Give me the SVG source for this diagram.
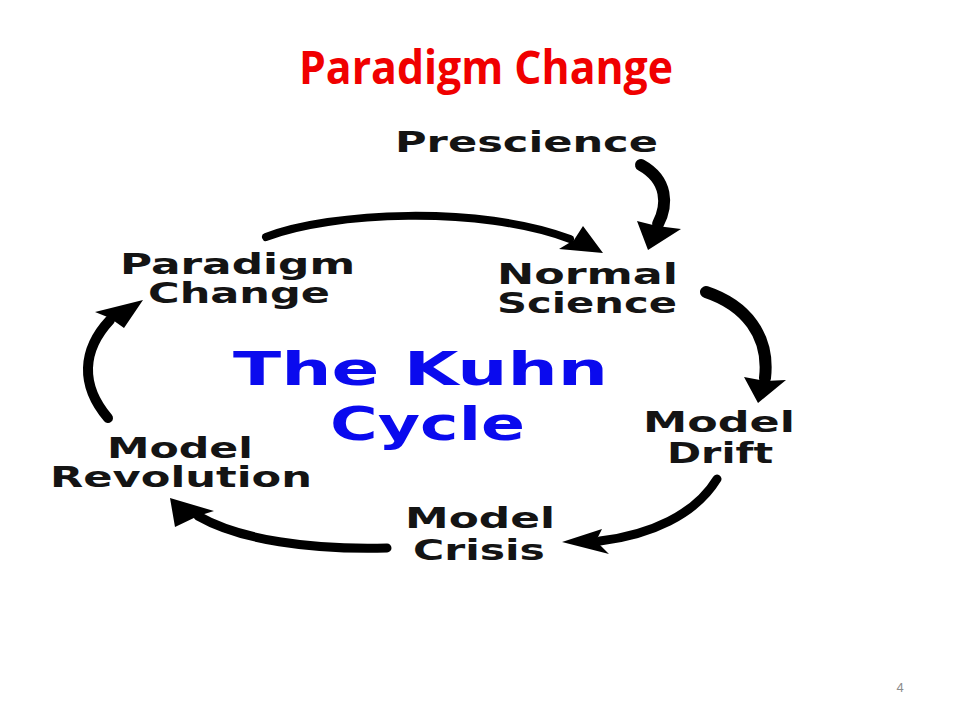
<svg xmlns="http://www.w3.org/2000/svg" width="960" height="720" viewBox="0 0 960 720">
  <style>
    .lbl { font-family: "DejaVu Sans", "Verdana", sans-serif; font-weight: bold; font-size: 28px; fill: #141414; }
    .big { font-family: "DejaVu Sans", "Verdana", sans-serif; font-weight: bold; font-size: 46px; fill: #0a0aee; }
    .title { font-family: "Open Sans", "Liberation Sans", sans-serif; font-weight: bold; font-size: 46px; fill: #f00000; }
    .pg { font-family: "Liberation Sans", "Arial", sans-serif; font-size: 13px; fill: #8c8c8c; }
    .shaft { fill: none; stroke: #000; stroke-linecap: round; }
    .head { fill: #000; }
  </style>
  <rect x="0" y="0" width="960" height="720" fill="#ffffff"/>

  <g id="title">
    <text class="title" x="299" y="84" textLength="374" lengthAdjust="spacingAndGlyphs">Paradigm Change</text>
  </g>

  <g id="node-prescience">
    <text class="lbl" transform="translate(395,152) scale(1.5,1)" x="0" y="0" textLength="175.3" lengthAdjust="spacingAndGlyphs">Prescience</text>
  </g>
  <g id="node-normal-science">
    <text class="lbl" transform="translate(497,0) scale(1.5,1)"><tspan x="0" y="284" textLength="120.7" lengthAdjust="spacingAndGlyphs">Normal</tspan><tspan x="0" y="313" textLength="120" lengthAdjust="spacingAndGlyphs">Science</tspan></text>
  </g>
  <g id="node-model-drift">
    <text class="lbl" transform="translate(643,0) scale(1.5,1)"><tspan x="0" y="432" textLength="101.3" lengthAdjust="spacingAndGlyphs">Model</tspan><tspan x="16" y="463" textLength="70.7" lengthAdjust="spacingAndGlyphs">Drift</tspan></text>
  </g>
  <g id="node-model-crisis">
    <text class="lbl" transform="translate(405,0) scale(1.5,1)"><tspan x="0" y="528" textLength="100" lengthAdjust="spacingAndGlyphs">Model</tspan><tspan x="5.3" y="560" textLength="88" lengthAdjust="spacingAndGlyphs">Crisis</tspan></text>
  </g>
  <g id="node-model-revolution">
    <text class="lbl" transform="translate(50,0) scale(1.5,1)"><tspan x="38" y="458" textLength="97.3" lengthAdjust="spacingAndGlyphs">Model</tspan><tspan x="0" y="487" textLength="174.7" lengthAdjust="spacingAndGlyphs">Revolution</tspan></text>
  </g>
  <g id="node-paradigm-change">
    <text class="lbl" transform="translate(120,0) scale(1.5,1)"><tspan x="0" y="274" textLength="156.7" lengthAdjust="spacingAndGlyphs">Paradigm</tspan><tspan x="18.7" y="303" textLength="121.3" lengthAdjust="spacingAndGlyphs">Change</tspan></text>
  </g>
  <g id="node-kuhn-cycle">
    <text class="big" transform="translate(233,0) scale(1.5,1)"><tspan x="0" y="385" textLength="250" lengthAdjust="spacingAndGlyphs">The Kuhn</tspan><tspan x="64.7" y="440" textLength="130" lengthAdjust="spacingAndGlyphs">Cycle</tspan></text>
  </g>

  <g id="connectors">
    <!-- Prescience -> Normal Science -->
    <path class="shaft" stroke-width="12" d="M641,165 C668,180 668,205 658,224"/>
    <polygon class="head" points="637,221 657,226 681,229 648,250"/>
    <!-- Paradigm Change -> Normal Science -->
    <path class="shaft" stroke-width="8" d="M266,237 C330,212 480,205 570,239"/>
    <polygon class="head" points="583,226 574,240 559,249 603,253"/>
    <!-- Normal Science -> Model Drift -->
    <path class="shaft" stroke-width="12" d="M706,292 C745,305 770,335 765,378"/>
    <polygon class="head" points="744,377 765,381 786,380 758,403"/>
    <!-- Model Drift -> Model Crisis -->
    <path class="shaft" stroke-width="9" d="M717,479 C695,515 650,535 600,541"/>
    <polygon class="head" points="602,529 596,541 609,554 562,542"/>
    <!-- Model Crisis -> Model Revolution -->
    <path class="shaft" stroke-width="9" d="M387,548 C310,550 240,540 198,516"/>
    <polygon class="head" points="214,511 198,516 175,527 170,498"/>
    <!-- Model Revolution -> Paradigm Change -->
    <path class="shaft" stroke-width="10" d="M108,418 C80,385 82,350 110,320"/>
    <polygon class="head" points="95,312 110,318 124,328 143,300"/>
  </g>

  <g id="page-number">
    <text class="pg" x="900" y="692" text-anchor="middle">4</text>
  </g>
</svg>
